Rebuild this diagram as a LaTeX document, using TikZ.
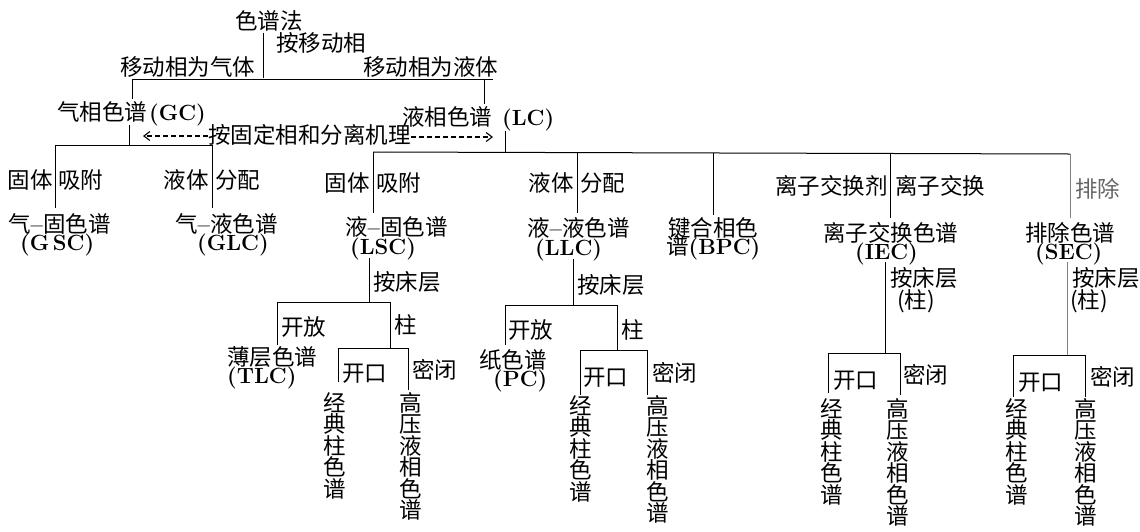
\documentclass[tikz,border=0pt]{standalone}
\usepackage{fontspec}
\usetikzlibrary{arrows.meta}
\newfontfamily\zhfont{Noto Sans CJK SC}
\newcommand\zh{\zhfont\fontsize{22.5}{21.5}\selectfont}
\newcommand\lat[1]{{\rmfamily\bfseries\fontsize{22}{21}\selectfont #1}}
\tikzset{
  lab/.style={inner sep=0pt, font=\zh, anchor=base west},
  labr/.style={inner sep=0pt, font=\zh, anchor=base east},
  two/.style={inner sep=0pt, font=\zh, anchor=base west, align=left},
  vtext/.style={inner sep=0pt, font=\zh, align=center, anchor=north},
  ln/.style={line width=1pt},
  faint/.style={line width=0.9pt, black!50},
  dasharrow/.style={line width=1.1pt, dash pattern=on 5.5pt off 2.5pt, -{Straight Barb[length=6pt,width=9pt,line width=1.1pt]}}
}
\begin{document}
\begin{tikzpicture}[x=1pt,y=-1pt]
\useasboundingbox (0,0) rectangle (1140,531);

% ---------- top levels ----------
\node[lab] (root) at (235,29) {色谱法};
\node[lab] (bymob) at (276,51) {按移动相};
\node[lab] (gas) at (120,75) {移动相为气体};
\node[lab] (liq) at (363,75) {移动相为液体};
\node[lab] (gc) at (57,120) {气相色谱\hspace{2pt}\lat{(GC)}};
\node[lab] (lc) at (402,125) {液相色谱\hspace{10pt}\lat{(LC)}};
\node[lab] (mech) at (208,143) {按固定相和分离机理};

\coordinate (r0) at (263,33);   \coordinate (r1) at (263,78);
\coordinate (b1l) at (132,79);  \coordinate (b1r) at (493,79);
\coordinate (gcu) at (132,99);  \coordinate (lcu) at (484,104);
\draw[ln] (r0) -- (r1);
\draw[ln] (b1l) -- (b1r);
\draw[ln] (b1l) -- (gcu);
\draw[ln] (484,79) -- (lcu);

\coordinate (al) at (143,136); \coordinate (ar) at (493,137);
\draw[dasharrow] (mech.west |- al) -- (al);
\draw[dasharrow] (mech.east |- ar) -- (ar);

% ---------- GC branch ----------
\coordinate (gcd0) at (129,125); \coordinate (gcd1) at (129,145);
\draw[ln] (gcd0) -- (gcd1);
\coordinate (gbl) at (55,145); \coordinate (gbr) at (213,145);
\draw[ln] (gbl) -- (gbr);
\coordinate (gsc0) at (55,208); \coordinate (glc0) at (212,208);
\draw[ln] (gbl) -- (gsc0);
\draw[ln] (212,145) -- (glc0);

\node[labr] (gs1) at (53,188) {固体};
\node[lab] (gs2) at (58,188) {吸附};
\node[labr] (gl1) at (209,188) {液体};
\node[lab] (gl2) at (215,188) {分配};
\node[two] (gsc) at (8,250) {气\lat{--}固色谱\\[-3.5pt]\hspace*{12pt}\lat{(G\,SC)}};
\node[two] (glc) at (175,250) {气\lat{--}液色谱\\[-3.5pt]\hspace*{22pt}\lat{(GLC)}};

% ---------- LC branch ----------
\coordinate (lcd0) at (505,131); \coordinate (lcd1) at (505,152);
\draw[ln] (lcd0) -- (lcd1);
\coordinate (lbl) at (373,152); \coordinate (lbr) at (1070,154);
\draw[ln] (lbl) -- (lbr);
\draw[ln] (lbl) -- (373,213);
\draw[ln] (577,152) -- (577,213);
\draw[ln] (713,153) -- (713,215);
\draw[ln] (890,153) -- (890,218);
\draw[faint] (lbr) -- (1070,218);

\node[labr] (ls1) at (370,191) {固体};
\node[lab] (ls2) at (376,191) {吸附};
\node[labr] (ll1) at (574,191) {液体};
\node[lab] (ll2) at (580,191) {分配};
\node[labr] (ie1) at (888,194) {离子交换剂};
\node[lab] (ie2) at (895,194) {离子交换};
\node[lab,text=black!60] (se1) at (1075,197) {排除};

\node[two] (lsc) at (345,254) {液\lat{--}固色谱\\[-2.5pt]\hspace*{5pt}\lat{(LSC)}};
\node[two] (llc) at (527,255) {液\lat{--}液色谱\\[-2.5pt]\hspace*{8pt}\lat{(LLC)}};
\node[two] (bpc) at (666,254) {\hspace*{2pt}键合相色\\[-3.5pt]谱\lat{(BPC)}};
\node[two] (iec) at (823,259) {离子交换色谱\\[-3.5pt]\hspace*{32pt}\lat{(IEC)}};
\node[two] (sec) at (1025,259) {排除色谱\\[-3.5pt]\hspace*{10pt}\lat{(SEC)}};

% ---------- LSC sub-tree ----------
\draw[ln] (369,258) -- (369,302);
\node[lab] (lsbed) at (373,290) {按床层};
\draw[ln] (277,302) -- (390,302);
\draw[ln] (277,302) -- (277,345);
\draw[ln] (390,302) -- (390,348);
\node[lab] (lsopen) at (281,335) {开放};
\node[lab] (lscol) at (394,333) {柱};
\node[two] (tlc) at (227,383) {薄层色谱\\[-3.5pt]\lat{(TLC)}};
\draw[ln] (338,348) -- (408,348);
\draw[ln] (338,348) -- (338,382);
\draw[ln] (408,348) -- (408,390);
\node[lab] (lsk) at (342,381) {开口};
\node[lab] (lsm) at (412,378) {密闭};
\node[vtext] (lsv1) at (335,392) {经\\典\\柱\\色\\谱};
\node[vtext] (lsv2) at (411,392) {高\\压\\液\\相\\色\\谱};

% ---------- LLC sub-tree ----------
\draw[ln] (573,259) -- (573,305);
\node[lab] (llbed) at (577,293) {按床层};
\draw[ln] (505,305) -- (617,305);
\draw[ln] (505,305) -- (505,345);
\draw[ln] (617,305) -- (617,350);
\node[lab] (llopen) at (508,338) {开放};
\node[lab] (llcol) at (621,338) {柱};
\node[two] (pc) at (479,386) {纸色谱\\[-3.5pt]\hspace*{14pt}\lat{(PC)}};
\draw[ln] (580,350) -- (647,350);
\draw[ln] (580,350) -- (580,395);
\draw[ln] (647,350) -- (647,395);
\node[lab] (llk) at (583,385) {开口};
\node[lab] (llm) at (652,381) {密闭};
\node[vtext] (llv1) at (581,395) {经\\典\\柱\\色\\谱};
\node[vtext] (llv2) at (658,395) {高\\压\\液\\相\\色\\谱};

% ---------- IEC sub-tree ----------
\draw[ln] (885,262) -- (885,353);
\node[two] (iebed) at (890,308) {按床层\\[0.5pt]\hspace*{7pt}(柱)};
\draw[ln] (828,353) -- (900,353);
\draw[ln] (828,353) -- (828,393);
\draw[ln] (900,353) -- (900,395);
\node[lab] (iek) at (833,388) {开口};
\node[lab] (iem) at (903,383) {密闭};
\node[vtext] (iev1) at (832,398) {经\\典\\柱\\色\\谱};
\node[vtext] (iev2) at (898,398) {高\\压\\液\\相\\色\\谱};

% ---------- SEC sub-tree ----------
\draw[faint] (1067,262) -- (1067,355);
\node[two] (sebed) at (1070,308) {\hspace*{2pt}按床层\\[0.5pt](柱)};
\draw[ln] (1013,355) -- (1085,355);
\draw[ln] (1013,355) -- (1013,397);
\draw[ln] (1085,355) -- (1085,397);
\node[lab] (sek) at (1018,390) {开口};
\node[lab] (sem) at (1090,385) {密闭};
\node[vtext] (sev1) at (1017,398) {经\\典\\柱\\色\\谱};
\node[vtext] (sev2) at (1086,398) {高\\压\\液\\相\\色\\谱};
\end{tikzpicture}
\end{document}
